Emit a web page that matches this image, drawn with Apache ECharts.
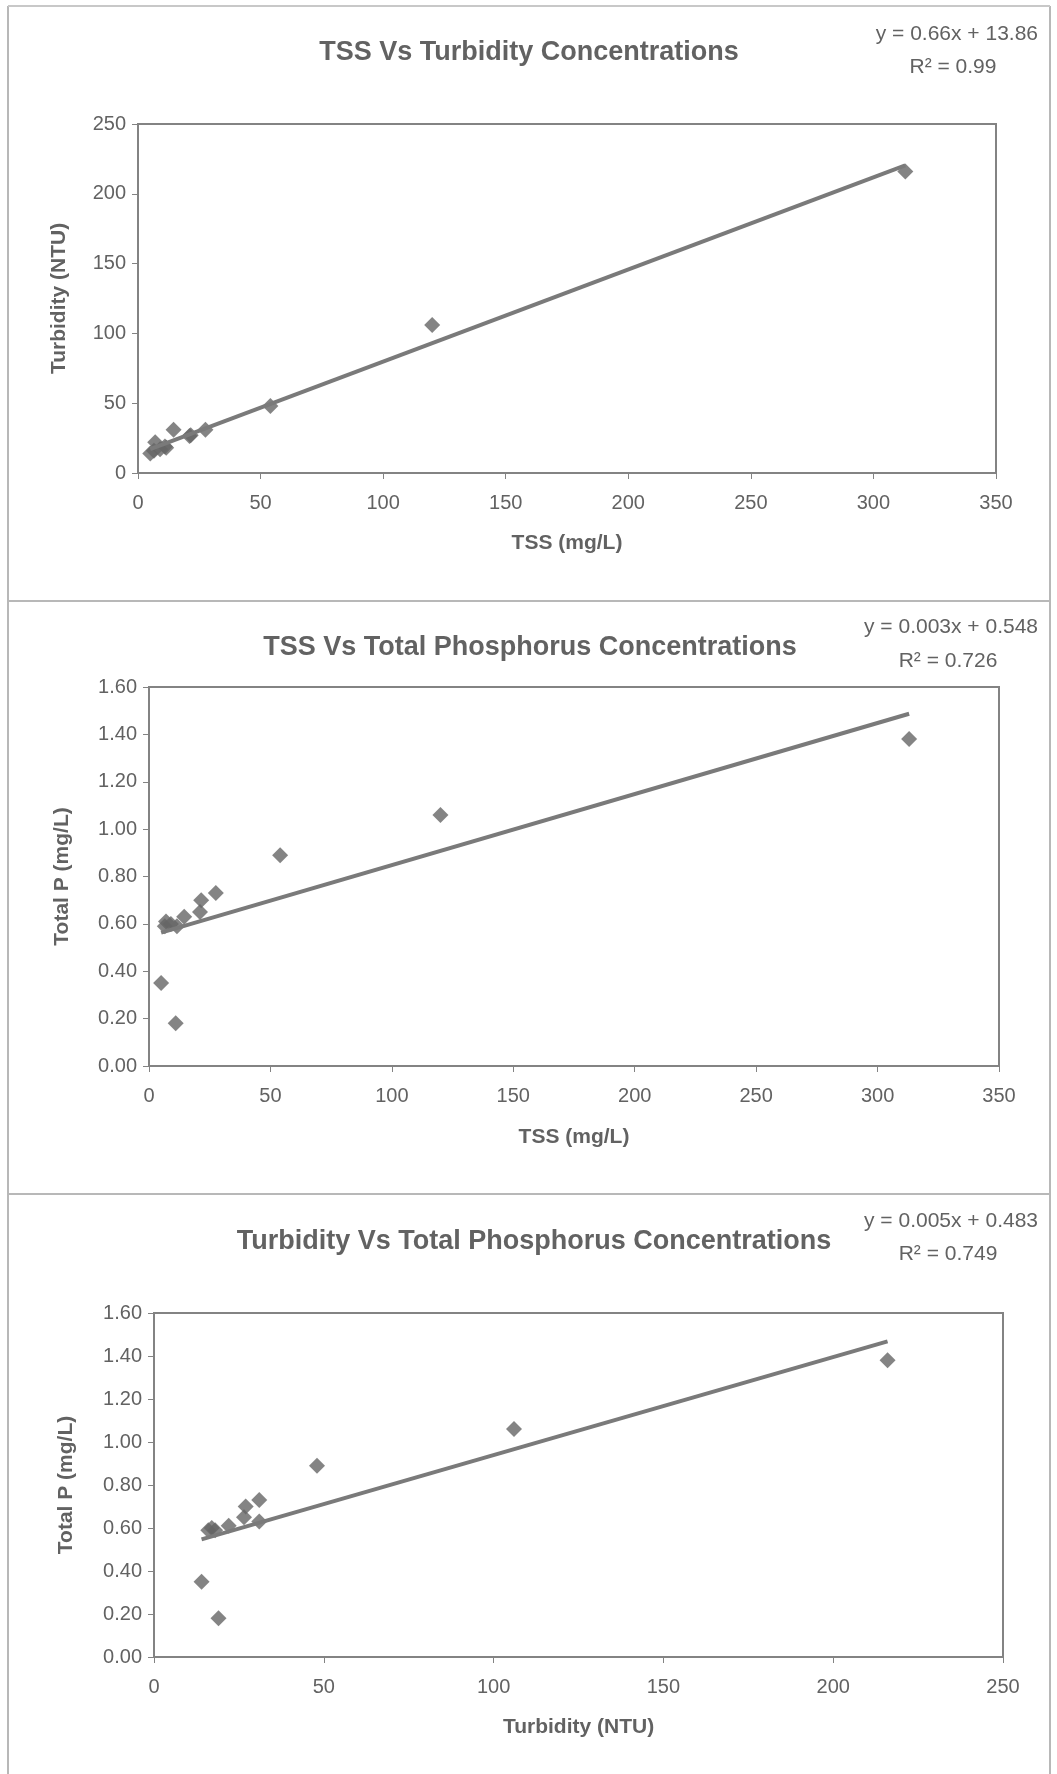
<!DOCTYPE html>
<html>
<head>
<meta charset="utf-8">
<script src="https://cdn.jsdelivr.net/npm/echarts@6/dist/echarts.min.js"></script>
<style>
html,body{margin:0;padding:0;background:#fff;}
#main{width:1057px;height:1774px;}
</style>
</head>
<body>
<div id="main"></div>
<script>
// ---- data ----
const tss       = [313, 120, 54, 27.5, 21.5, 21, 14.5, 5, 11, 7, 11.5, 6.5, 9];
const turbidity = [216, 106, 48, 31, 27, 26.5, 31, 14, 19, 22, 18, 16, 17];
const totalP    = [1.38, 1.06, 0.89, 0.73, 0.70, 0.65, 0.63, 0.35, 0.18, 0.61, 0.59, 0.59, 0.60];

const titles = [
  'TSS Vs Turbidity Concentrations',
  'TSS Vs Total Phosphorus Concentrations',
  'Turbidity Vs Total Phosphorus Concentrations'
];
const equations = ['y = 0.66x + 13.86', 'y = 0.003x + 0.548', 'y = 0.005x + 0.483'];
const rSquared  = ['R² = 0.99', 'R² = 0.726', 'R² = 0.749'];
// trend lines as drawn (slope, intercept)
const trend1 = [0.66, 13.86];
const trend2 = [0.003, 0.548];
const trend3 = [0.00456, 0.483];

const xNames = ['TSS (mg/L)', 'TSS (mg/L)', 'Turbidity (NTU)'];
const yNames = ['Turbidity (NTU)', 'Total P (mg/L)', 'Total P (mg/L)'];

// ---- build ----
function pairs(xs, ys){ return xs.map((x,i)=>[x, ys[i]]); }
function trendLine(xs, t){
  const lo = Math.min(...xs), hi = Math.max(...xs);
  return [[lo, t[0]*lo + t[1]], [hi, t[0]*hi + t[1]]];
}

const FONT = 'Liberation Sans, Arial, sans-serif';
const GRAY = '#626262';
const MARK = '#656565';
const LINE = '#7a7a7a';

const grids = [
  {left:138, top:124, width:858, height:349},
  {left:149, top:687, width:850, height:379},
  {left:154, top:1313, width:849, height:344}
];

const xMax = [350, 350, 250];
const yMax = [250, 1.6, 1.6];
const yInt = [50, 0.2, 0.2];
const xNameGap = [60, 61, 60];
const yNameGap = [68, 76, 77];

const seriesData = [
  pairs(tss, turbidity),
  pairs(tss, totalP),
  pairs(turbidity, totalP)
];
const trendData = [
  trendLine(tss, trend1),
  trendLine(tss, trend2),
  trendLine(turbidity, trend3)
];

const option = {
  backgroundColor:'#fff',
  animation:false,
  title: [
    {text:titles[0], left:529, top:53, textAlign:'center', textVerticalAlign:'middle'},
    {text:titles[1], left:530, top:648, textAlign:'center', textVerticalAlign:'middle'},
    {text:titles[2], left:534, top:1242, textAlign:'center', textVerticalAlign:'middle'}
  ].map(t=>Object.assign(t,{padding:0, textStyle:{fontFamily:FONT, fontSize:27, fontWeight:'bold', color:GRAY}})),
  grid: grids.map(g=>Object.assign({show:true, borderColor:'#838383', borderWidth:2, backgroundColor:'#fff'}, g)),
  xAxis: [0,1,2].map(i=>({
    type:'value', gridIndex:i, min:0, max:xMax[i], interval:50,
    name:xNames[i], nameLocation:'middle', nameGap:xNameGap[i],
    nameTextStyle:{fontFamily:FONT, fontSize:21, fontWeight:'bold', color:GRAY},
    axisLine:{show:true, onZero:false, lineStyle:{color:'#838383', width:2}},
    axisTick:{show:true, length:6, lineStyle:{color:'#838383'}},
    axisLabel:{fontFamily:FONT, fontSize:20, color:GRAY, margin:20},
    splitLine:{show:false}
  })),
  yAxis: [0,1,2].map(i=>({
    type:'value', gridIndex:i, min:0, max:yMax[i], interval:yInt[i],
    name:yNames[i], nameLocation:'middle', nameGap:yNameGap[i],
    nameTextStyle:{fontFamily:FONT, fontSize:21, fontWeight:'bold', color:GRAY},
    axisLine:{show:true, onZero:false, lineStyle:{color:'#838383', width:2}},
    axisTick:{show:true, length:6, lineStyle:{color:'#838383'}},
    axisLabel:{fontFamily:FONT, fontSize:20, color:GRAY, margin:12,
      formatter: i===0 ? (v=>String(v)) : (v=>v.toFixed(2))},
    splitLine:{show:false}
  })),
  series: [].concat(
    [0,1,2].map(i=>({
      type:'scatter', xAxisIndex:i, yAxisIndex:i, data:seriesData[i],
      symbol:'diamond', symbolSize:16, itemStyle:{color:MARK}, z:2
    })),
    [0,1,2].map(i=>({
      type:'line', xAxisIndex:i, yAxisIndex:i, data:trendData[i],
      symbol:'none', lineStyle:{color:LINE, width:4}, z:3
    }))
  ),
  graphic: [
    // outer frame and separators
    {type:'line', shape:{x1:8, y1:6, x2:8, y2:1774}, style:{stroke:'#b8b8b8', lineWidth:2}},
    {type:'line', shape:{x1:1050, y1:6, x2:1050, y2:1774}, style:{stroke:'#b8b8b8', lineWidth:2}},
    {type:'line', shape:{x1:8, y1:6, x2:1050, y2:6}, style:{stroke:'#c8c8c8', lineWidth:2}},
    {type:'line', shape:{x1:8, y1:601, x2:1050, y2:601}, style:{stroke:'#b8b8b8', lineWidth:2}},
    {type:'line', shape:{x1:8, y1:1194, x2:1050, y2:1194}, style:{stroke:'#b8b8b8', lineWidth:2}},
    // equations
    {type:'text', x:1038, y:34, style:{text:equations[0], align:'right', verticalAlign:'middle', font:'21px '+FONT, fill:GRAY}},
    {type:'text', x:953, y:67, style:{text:rSquared[0], align:'center', verticalAlign:'middle', font:'21px '+FONT, fill:GRAY}},
    {type:'text', x:1038, y:627, style:{text:equations[1], align:'right', verticalAlign:'middle', font:'21px '+FONT, fill:GRAY}},
    {type:'text', x:948, y:661, style:{text:rSquared[1], align:'center', verticalAlign:'middle', font:'21px '+FONT, fill:GRAY}},
    {type:'text', x:1038, y:1221, style:{text:equations[2], align:'right', verticalAlign:'middle', font:'21px '+FONT, fill:GRAY}},
    {type:'text', x:948, y:1254, style:{text:rSquared[2], align:'center', verticalAlign:'middle', font:'21px '+FONT, fill:GRAY}}
  ]
};

const chart = echarts.init(document.getElementById('main'), null, {renderer:'canvas'});
chart.setOption(option);
</script>
</body>
</html>
